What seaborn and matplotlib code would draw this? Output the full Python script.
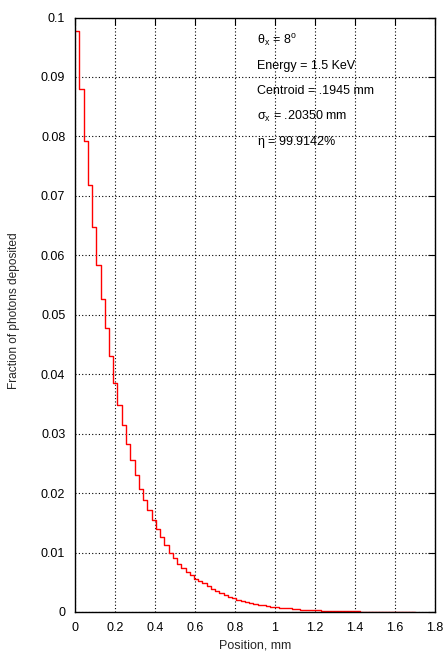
import numpy as np
import pandas as pd
import matplotlib
matplotlib.use("Agg")
import matplotlib.pyplot as plt
import seaborn as sns

# ---- data (80 bins over 0..1.7 mm) ----
bin_start = 0.0
bin_stop = 1.7
fraction = [
    0.0977, 0.0880, 0.0792, 0.0718, 0.0648, 0.0584, 0.0527, 0.0477, 0.0431, 0.0386,
    0.0348, 0.0314, 0.0283, 0.0256, 0.0231, 0.0207, 0.0188, 0.0171, 0.0154, 0.0139,
    0.0126, 0.0113, 0.0100, 0.0091, 0.0081, 0.0074, 0.0067, 0.0062, 0.0056, 0.0052,
    0.0048, 0.0043, 0.0039, 0.0036, 0.0032, 0.0029, 0.0026, 0.0024, 0.0021, 0.0019,
    0.0017, 0.0015, 0.0014, 0.0012, 0.0011, 0.0010, 0.0009, 0.0008, 0.0007, 0.0007,
    0.0006, 0.0005, 0.0005, 0.0004, 0.0004, 0.0003, 0.0003, 0.0003, 0.0002, 0.0002,
    0.0002, 0.0002, 0.00015, 0.00013, 0.00012, 0.0001, 0.00009, 0.00008, 0.00007, 0.00006,
    0.00005, 0.00005, 0.00004, 0.00004, 0.00003, 0.00003, 0.00002, 0.00002, 0.00002, 0.00001,
]
x_ticks = [0, 0.2, 0.4, 0.6, 0.8, 1.0, 1.2, 1.4, 1.6, 1.8]
x_tick_labels = ["0", "0.2", "0.4", "0.6", "0.8", "1", "1.2", "1.4", "1.6", "1.8"]
y_ticks = [0, 0.01, 0.02, 0.03, 0.04, 0.05, 0.06, 0.07, 0.08, 0.09, 0.1]
y_tick_labels = ["0", "0.01", "0.02", "0.03", "0.04", "0.05", "0.06", "0.07", "0.08", "0.09", "0.1"]
annotations = [
    r"$\mathregular{\theta_x}$ = 8$\mathregular{^o}$",
    "Energy = 1.5 KeV",
    "Centroid = .1945 mm",
    r"$\mathregular{\sigma_x}$ = .20350 mm",
    r"$\mathregular{\eta}$ = 99.9142%",
]
annot_y = [0.0960, 0.0918, 0.0876, 0.0834, 0.0791]

n_bins = len(fraction)
edges = np.linspace(bin_start, bin_stop, n_bins + 1)
centers = (edges[:-1] + edges[1:]) / 2
df = pd.DataFrame({"position": centers, "fraction": fraction})

sns.set_style("white")
plt.rcParams["font.family"] = ["Liberation Sans", "DejaVu Sans"]
plt.rcParams["mathtext.fontset"] = "custom"
plt.rcParams["mathtext.rm"] = "Liberation Sans"
plt.rcParams["mathtext.it"] = "Liberation Sans"

FS = 9.0
fig = plt.figure(figsize=(4.47, 6.52), dpi=100)
ax = fig.add_axes([75 / 447, 40 / 652, 360 / 447, 594.5 / 652])

sns.histplot(data=df, x="position", weights="fraction", bins=n_bins,
             binrange=(bin_start, bin_stop),
             element="step", fill=False, color="#ff0000", linewidth=1.0, ax=ax)

ax.set_xlim(0, 1.8)
ax.set_ylim(0, 0.1)
ax.set_xticks(x_ticks)
ax.set_xticklabels(x_tick_labels)
ax.set_yticks(y_ticks)
ax.set_yticklabels(y_tick_labels)
ax.grid(True, linestyle=(0, (1, 2)), color="black", linewidth=0.8)
ax.set_axisbelow(True)
ax.tick_params(direction="in", length=5, width=0.8, top=True, right=True,
               labelsize=FS, colors="black")
ax.tick_params(axis="y", pad=7)
ax.tick_params(axis="x", pad=7.5)
for s in ax.spines.values():
    s.set_color("black")
    s.set_linewidth(1.0)
ax.set_xlabel("Position, mm", fontsize=FS)
ax.set_ylabel("Fraction of photons deposited", fontsize=8.6)
ax.yaxis.set_label_coords(-0.169, 0.507)
ax.xaxis.set_label_coords(0.5, -0.056)
ax.xaxis.label.set_va("center")
ax.yaxis.label.set_va("center")

for txt, yv in zip(annotations, annot_y):
    ax.text(0.912, yv, txt, fontsize=FS, ha="left", va="center", color="black")

fig.savefig("out.png", dpi=100)
